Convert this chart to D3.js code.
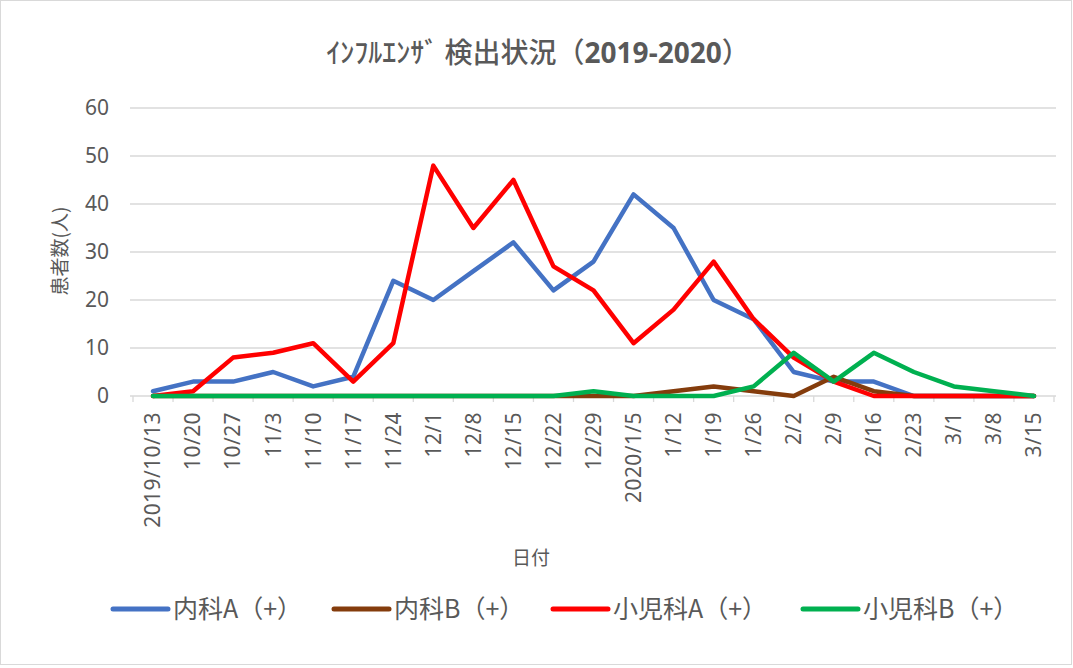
<!DOCTYPE html>
<html>
<head>
<meta charset="utf-8">
<script src="https://cdn.jsdelivr.net/npm/d3@7"></script>
<style>
  body { margin: 0; background: #fff; }
  svg { display: block; font-family: "Noto Sans CJK JP", "Noto Sans", sans-serif; }
</style>
</head>
<body>
<div id="chart"></div>
<script>
// categories (weeks)
const dates = ["2019/10/13", "10/20", "10/27", "11/3", "11/10", "11/17", "11/24", "12/1", "12/8", "12/15",
  "12/22", "12/29", "2020/1/5", "1/12", "1/19", "1/26", "2/2", "2/9", "2/16", "2/23", "3/1", "3/8", "3/15"];

// series values
const naikaA = [1, 3, 3, 5, 2, 4, 24, 20, 26, 32, 22, 28, 42, 35, 20, 16, 5, 3, 3, 0, 0, 0, 0];
const naikaB = [0, 0, 0, 0, 0, 0, 0, 0, 0, 0, 0, 0, 0, 1, 2, 1, 0, 4, 1, 0, 0, 0, 0];
const shoniA = [0, 1, 8, 9, 11, 3, 11, 48, 35, 45, 27, 22, 11, 18, 28, 16, 8, 3, 0, 0, 0, 0, 0];
const shoniB = [0, 0, 0, 0, 0, 0, 0, 0, 0, 0, 0, 1, 0, 0, 0, 2, 9, 3, 9, 5, 2, 1, 0];

const seriesNames = ["内科A（+）", "内科B（+）", "小児科A（+）", "小児科B（+）"];
const seriesColors = ["#4472C4", "#843C0C", "#FF0000", "#00B050"];
const yTicks = [0, 10, 20, 30, 40, 50, 60];

const series = [naikaA, naikaB, shoniA, shoniB].map((vals, i) => ({
    name: seriesNames[i], color: seriesColors[i], values: vals
}));

const width = 1073, height = 668;
const plot = { left: 133, right: 1054, top: 108, bottom: 396 };

const svg = d3.select("#chart").append("svg")
    .attr("width", width)
    .attr("height", height);

// outer frame
svg.append("rect")
    .attr("x", 0.5).attr("y", 0.5)
    .attr("width", width - 2).attr("height", height - 4)
    .attr("fill", "#fff")
    .attr("stroke", "#d9d9d9");

const x = d3.scaleBand().domain(dates).range([plot.left, plot.right]);
const y = d3.scaleLinear().domain([0, 60]).range([plot.bottom, plot.top]);

// grid lines
svg.append("g").selectAll("line")
    .data(yTicks.filter(d => d > 0))
    .join("line")
    .attr("x1", plot.left - 3).attr("x2", plot.right + 2)
    .attr("y1", d => y(d)).attr("y2", d => y(d))
    .attr("stroke", "#d9d9d9").attr("stroke-width", 1.3);

// y axis labels
const yAxis = svg.append("g")
    .attr("transform", `translate(${plot.left - 24},0)`)
    .call(d3.axisLeft(y).tickValues(yTicks).tickSize(0).tickPadding(0));
yAxis.select(".domain").remove();
yAxis.selectAll("text")
    .attr("fill", "#595959")
    .style("font-size", "21px")
    .style("font-family", "'Noto Sans', sans-serif");

// x axis
const xAxis = svg.append("g")
    .attr("transform", `translate(0,${plot.bottom})`)
    .call(d3.axisBottom(x).tickSize(0).tickPadding(0));
xAxis.select(".domain").attr("stroke", "#d9d9d9").attr("stroke-width", 1.3)
    .attr("d", `M${plot.left - 3},0H${plot.right + 2}`);
xAxis.selectAll("text")
    .attr("fill", "#595959")
    .style("font-size", "21px")
    .style("letter-spacing", "0.4px")
    .style("font-family", "'Noto Sans', sans-serif")
    .attr("text-anchor", "end")
    .attr("dy", "0.35em")
    .attr("transform", "translate(0,16) rotate(-90)");

// tick marks at category boundaries
svg.append("g").selectAll("line")
    .data(d3.range(dates.length + 1))
    .join("line")
    .attr("x1", i => plot.left + i * x.step())
    .attr("x2", i => plot.left + i * x.step())
    .attr("y1", plot.bottom).attr("y2", plot.bottom + 6)
    .attr("stroke", "#d9d9d9").attr("stroke-width", 1.3);

// lines
const line = d3.line()
    .x((d, i) => x(dates[i]) + x.bandwidth() / 2)
    .y(d => y(d));

svg.append("g").selectAll("path")
    .data(series)
    .join("path")
    .attr("d", d => line(d.values))
    .attr("fill", "none")
    .attr("stroke", d => d.color)
    .attr("stroke-width", 4.5)
    .attr("stroke-linejoin", "round")
    .attr("stroke-linecap", "round");

// title
const title = svg.append("text")
    .attr("x", 538).attr("y", 63)
    .attr("text-anchor", "middle")
    .attr("fill", "#595959")
    .style("font-size", "28px");
title.append("tspan").style("font-weight", 500).text("ｲﾝﾌﾙｴﾝｻﾞ 検出状況（");
title.append("tspan").style("font-weight", "bold").style("font-family", "'Open Sans', sans-serif").text("2019-2020");
title.append("tspan").style("font-weight", 500).text("）");

// axis titles
svg.append("text")
    .attr("transform", "translate(60,251) rotate(-90)")
    .attr("text-anchor", "middle")
    .attr("dy", "0.35em")
    .attr("fill", "#595959")
    .style("font-size", "19px")
    .text("患者数(人)");

svg.append("text")
    .attr("x", 531).attr("y", 558)
    .attr("text-anchor", "middle")
    .attr("dy", "0.35em")
    .attr("fill", "#595959")
    .style("font-size", "19px")
    .text("日付");

// legend
const legendX = [113, 334, 553, 803];
const legend = svg.append("g").selectAll("g")
    .data(series)
    .join("g")
    .attr("transform", (d, i) => `translate(${legendX[i]},609)`);
legend.append("line")
    .attr("x1", 0).attr("x2", 55)
    .attr("stroke", d => d.color)
    .attr("stroke-width", 5)
    .attr("stroke-linecap", "round");
legend.append("text")
    .attr("x", 60).attr("dy", "0.35em")
    .attr("fill", "#595959")
    .style("font-size", "25px")
    .text(d => d.name);
</script>
</body>
</html>
